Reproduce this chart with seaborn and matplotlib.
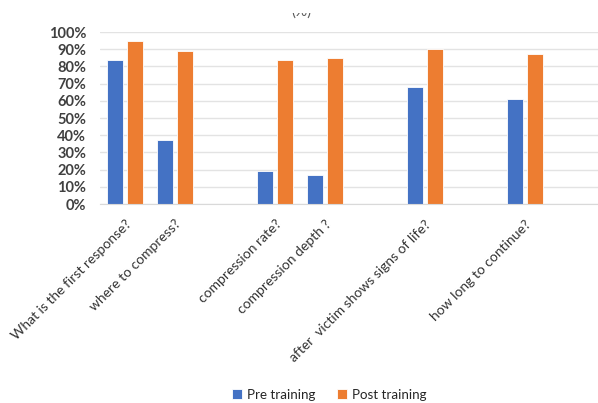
import matplotlib
matplotlib.use("Agg")
import matplotlib.pyplot as plt
from matplotlib.transforms import Bbox, TransformedBbox
from matplotlib.ticker import PercentFormatter
import seaborn as sns
import pandas as pd

# Questions on the x axis; blank slots keep Excel-style empty categories
questions = [
    "What is the first response?",
    "where to compress?",
    " ",
    "compression rate?",
    "compression depth ?",
    "  ",
    "after  victim shows signs of life?",
    "   ",
    "how long to continue?",
    "    ",
]
pre_training = [84, 37, None, 19, 17, None, 68, None, 61, None]
post_training = [95, 89, None, 84, 85, None, 90, None, 87, None]
series_names = ["Pre training", "Post training"]
series_colors = ["#4472C4", "#ED7D31"]

df = pd.DataFrame({
    "question": questions * 2,
    "value": pre_training + post_training,
    "series": [series_names[0]] * len(questions) + [series_names[1]] * len(questions),
})
df = df.dropna()

sns.set_style("white")
plt.rcParams["font.family"] = ["Lato", "DejaVu Sans"]

fig = plt.figure(figsize=(5.98, 4.03), dpi=100)
ax = fig.add_axes([100 / 598, 1 - 204 / 403, 500 / 598, 172 / 403])

sns.barplot(
    data=df, x="question", y="value", hue="series",
    order=questions, hue_order=series_names,
    palette=series_colors, saturation=1, width=0.8, gap=0.2,
    edgecolor="white", linewidth=0.6, ax=ax, legend=True,
)

ax.set_ylim(0, 100)
ax.set_yticks(range(0, 101, 10))
ax.yaxis.set_major_formatter(PercentFormatter(decimals=0))
ax.set_xlim(-0.5, len(questions) - 0.5)
ax.grid(axis="y", color="#E3E3E3", linewidth=1)
ax.set_axisbelow(True)
for side in ["top", "right", "left"]:
    ax.spines[side].set_visible(False)
ax.spines["bottom"].set_color("#D9D9D9")
ax.set_xlabel("")
ax.set_ylabel("")
ax.tick_params(axis="both", length=0)
ax.tick_params(axis="y", labelsize=10.5, labelcolor="#404040", pad=10)
for lbl in ax.get_yticklabels():
    lbl.set_fontweight("bold")
ax.set_xticks(range(len(questions)))
ax.set_xticklabels(questions, rotation=45, ha="right", rotation_mode="anchor",
                   fontsize=10, color="#333333")
ax.tick_params(axis="x", pad=10)

handles, labels = ax.get_legend_handles_labels()
ax.get_legend().remove()
fig.legend(handles, labels, loc="center", bbox_to_anchor=(329 / 598, 1 - 395 / 403),
           ncol=2, frameon=False, fontsize=9.6, handlelength=0.75,
           handleheight=0.75, columnspacing=1.6, handletextpad=0.4)

# Chart title sits at the very top edge, clipped by the frame
title = fig.text(0.505, 1 - 19 / 403, "(%)", ha="center", va="bottom",
                 fontsize=11, color="#595959")
title.set_clip_box(TransformedBbox(Bbox([[0, 0], [1, 1 - 13 / 403]]), fig.transFigure))
title.set_clip_on(True)

fig.savefig("out.png", dpi=100)
